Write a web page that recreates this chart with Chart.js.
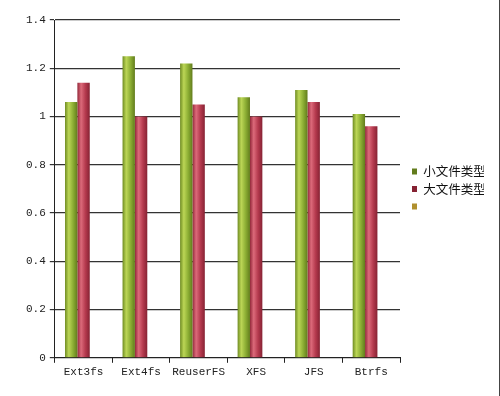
<!DOCTYPE html>
<html>
<head>
<meta charset="utf-8">
<script src="https://cdn.jsdelivr.net/npm/chart.js@4/dist/chart.umd.min.js"></script>
<style>
    body { margin: 0; background: #fff; }
    #wrap { width: 500px; height: 396px; position: relative; box-sizing: border-box; border-right: 1px solid #444; }
</style>
</head>
<body>
<div id="wrap"><canvas id="fsChart"></canvas></div>
<script>
const categories = ["Ext3fs", "Ext4fs", "ReuserFS", "XFS", "JFS", "Btrfs"]
const smallFiles = [1.06, 1.25, 1.22, 1.08, 1.11, 1.01]
const bigFiles = [1.14, 1.00, 1.05, 1.00, 1.06, 0.96]
const thirdSeries = [null, null, null, null, null, null]
const seriesNames = ["小文件类型", "大文件类型", ""]

const groupPct = 0.645

// cylinder-like shading across each bar
function shade(stops, flat) {
    return function (ctx) {
        const chart = ctx.chart
        const x = chart.scales && chart.scales.x
        if (ctx.type !== "data" || !x || !x.width) return flat
        const n = chart.data.datasets.length
        const barW = x.width / categories.length * groupPct / n
        const left = x.getPixelForValue(ctx.dataIndex) - barW * n / 2 + ctx.datasetIndex * barW
        const g = chart.ctx.createLinearGradient(left, 0, left + barW, 0)
        g.addColorStop(0, stops[0])
        g.addColorStop(0.3, stops[1])
        g.addColorStop(0.65, stops[2])
        g.addColorStop(1, stops[3])
        return g
    }
}

const monoFont = { family: "'Liberation Mono', monospace", size: 11 }

new Chart(document.getElementById("fsChart"), {
    type: "bar",
    data: {
        labels: categories,
        datasets: [{
            label: seriesNames[0],
            data: smallFiles,
            backgroundColor: shade(["#6f8c22", "#bcd656", "#8cae34", "#627c1c"], "#8aa83a"),
            borderWidth: 0
        }, {
            label: seriesNames[1],
            data: bigFiles,
            backgroundColor: shade(["#93283a", "#dc6a7a", "#b53a4e", "#862233"], "#b03a50"),
            borderWidth: 0
        }, {
            label: seriesNames[2],
            data: thirdSeries,
            backgroundColor: "#b0902e",
            borderWidth: 0
        }]
    },
    options: {
        responsive: true,
        maintainAspectRatio: false,
        animation: false,
        layout: {
            padding: { top: 20, left: 22, bottom: 14, right: 15 }
        },
        datasets: {
            bar: {
                categoryPercentage: groupPct,
                barPercentage: 1
            }
        },
        plugins: {
            tooltip: { enabled: false },
            legend: {
                position: "right",
                fullSize: false,
                labels: {
                    boxWidth: 5,
                    boxHeight: 6,
                    padding: 5,
                    color: "#111",
                    font: { family: "'Noto Sans CJK SC', sans-serif", size: 12.5 }
                }
            }
        },
        scales: {
            x: {
                grid: {
                    offset: true,
                    drawOnChartArea: false,
                    tickLength: 5,
                    color: "#222"
                },
                border: { color: "#222", width: 1 },
                ticks: {
                    color: "#222",
                    padding: 3,
                    autoSkip: false,
                    maxRotation: 0,
                    minRotation: 0,
                    font: monoFont
                }
            },
            y: {
                min: 0,
                max: 1.4,
                grid: {
                    color: "#333",
                    lineWidth: 1.2,
                    tickLength: 5
                },
                border: { color: "#222", width: 1 },
                ticks: {
                    stepSize: 0.2,
                    color: "#222",
                    padding: 4,
                    font: monoFont,
                    callback: v => Math.round(v * 10) / 10
                }
            },
            // empty gap between the plot and the legend
            gap: {
                type: "linear",
                position: "right",
                grid: { display: false },
                border: { display: false },
                ticks: { display: false },
                afterFit: s => { s.width = 7 }
            }
        }
    }
})
</script>
</body>
</html>
